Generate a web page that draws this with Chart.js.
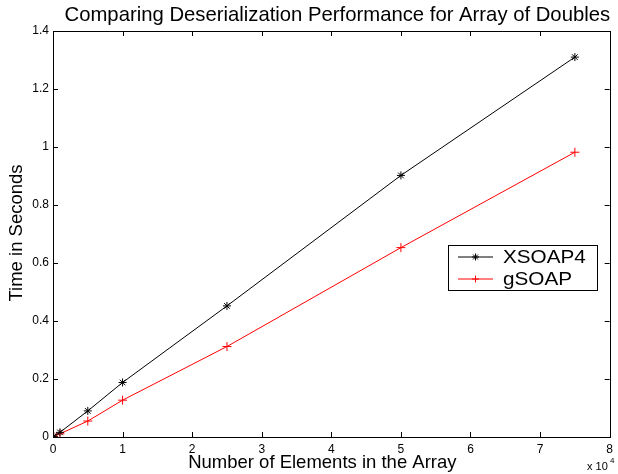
<!DOCTYPE html>
<html lang="en">
<head>
    <meta charset="UTF-8">
    <title>Deserialization Performance</title>
    <script src="https://cdn.jsdelivr.net/npm/chart.js"></script>
    <style>
        html, body { margin: 0; padding: 0; background: white; }
        #wrap { width: 618px; height: 474px; }
    </style>
</head>
<body>
    <div id="wrap"><canvas id="perfChart" width="618" height="474"></canvas></div>

    <script>
        // data
        const elements = [100, 1000, 5000, 10000, 25000, 50000, 75000];
        const xsoap4 = [0.002, 0.016, 0.09, 0.188, 0.452, 0.902, 1.31];
        const gsoap = [0.001, 0.011, 0.055, 0.127, 0.312, 0.653, 0.982];
        const xTicks = [0, 1, 2, 3, 4, 5, 6, 7, 8];
        const yTicks = [0, 0.2, 0.4, 0.6, 0.8, 1, 1.2, 1.4];

        const FONT = 'Liberation Sans, Arial, Helvetica, sans-serif';

        const toPoints = (ys) => ys.map((y, i) => ({ x: elements[i], y: y }));

        // MATLAB style frame: box, inward ticks, title, axis labels, legend
        const matlabFrame = {
            id: 'matlabFrame',
            afterDraw(chart) {
                const ctx = chart.ctx;
                const a = chart.chartArea;
                const xs = chart.scales.x, ys = chart.scales.y;
                ctx.save();
                ctx.strokeStyle = '#000';
                ctx.lineWidth = 1;
                ctx.strokeRect(Math.round(a.left) + 0.5, Math.round(a.top) + 0.5,
                    Math.round(a.right - a.left), Math.round(a.bottom - a.top));

                ctx.beginPath();
                xTicks.forEach(t => {
                    const px = Math.round(xs.getPixelForValue(t * 10000)) + 0.5;
                    ctx.moveTo(px, a.bottom); ctx.lineTo(px, a.bottom - 5);
                    ctx.moveTo(px, a.top); ctx.lineTo(px, a.top + 5);
                });
                yTicks.forEach(t => {
                    const py = Math.round(ys.getPixelForValue(t)) + 0.5;
                    ctx.moveTo(a.left, py); ctx.lineTo(a.left + 5, py);
                    ctx.moveTo(a.right, py); ctx.lineTo(a.right - 5, py);
                });
                ctx.stroke();

                ctx.fillStyle = '#000';
                ctx.textAlign = 'center';
                ctx.textBaseline = 'alphabetic';
                ctx.font = '20.3px ' + FONT;
                ctx.fillText('Comparing Deserialization Performance for Array of Doubles', (a.left + a.right) / 2 + 6, 21);
                ctx.font = '18.5px ' + FONT;
                ctx.fillText('Number of Elements in the Array', (a.left + a.right) / 2 - 9, 468);

                ctx.save();
                ctx.translate(22, (a.top + a.bottom) / 2 - 1);
                ctx.rotate(-Math.PI / 2);
                ctx.fillText('Time in Seconds', 0, 0);
                ctx.restore();

                ctx.textAlign = 'left';
                ctx.font = '11px ' + FONT;
                ctx.fillText('x 10', 587, 470);
                ctx.font = '8px ' + FONT;
                ctx.fillText('4', 610, 463);

                // legend
                const lx = 448, ly = 245, lw = 149, lh = 45;
                ctx.fillStyle = '#fff';
                ctx.fillRect(lx, ly, lw, lh);
                ctx.strokeRect(lx + 0.5, ly + 0.5, lw, lh);
                chart.data.datasets.forEach((ds, i) => {
                    const yy = ly + 12 + i * 22;
                    ctx.strokeStyle = ds.borderColor;
                    ctx.beginPath();
                    ctx.moveTo(458, yy); ctx.lineTo(493, yy);
                    ctx.stroke();
                    Chart.helpers.drawPoint(ctx, {
                        pointStyle: ds.pointStyle, radius: 3.5, borderWidth: 1
                    }, 475.5, yy);
                    ctx.fillStyle = '#000';
                    ctx.font = '18px ' + FONT;
                    ctx.textBaseline = 'middle';
                    ctx.save();
                    ctx.translate(503, yy + 1);
                    ctx.scale(1.15, 1);
                    ctx.fillText(ds.label, 0, 0);
                    ctx.restore();
                });
                ctx.restore();
            }
        };

        new Chart(document.getElementById('perfChart'), {
            type: 'line',
            data: {
                datasets: [{
                    label: 'XSOAP4',
                    data: toPoints(xsoap4),
                    borderColor: '#000',
                    backgroundColor: '#000',
                    pointStyle: 'star',
                    pointRadius: 4,
                    pointBorderWidth: 1,
                    borderWidth: 1,
                    tension: 0
                }, {
                    label: 'gSOAP',
                    data: toPoints(gsoap),
                    borderColor: '#ff0000',
                    backgroundColor: '#ff0000',
                    pointStyle: 'cross',
                    pointRadius: 4.5,
                    pointBorderWidth: 1,
                    borderWidth: 1,
                    tension: 0
                }]
            },
            options: {
                responsive: false,
                animation: false,
                layout: { padding: { left: 0, right: 6, top: 31, bottom: 0 } },
                scales: {
                    x: {
                        type: 'linear',
                        min: 0,
                        max: 80000,
                        afterFit: (s) => { s.height = 37; },
                        afterBuildTicks: (s) => { s.ticks = xTicks.map(t => ({ value: t * 10000 })); },
                        ticks: {
                            color: '#000',
                            font: { family: FONT, size: 12 },
                            padding: 5,
                            maxRotation: 0,
                            callback: (v) => String(v / 10000)
                        },
                        grid: { display: false, drawTicks: false },
                        border: { display: false }
                    },
                    y: {
                        min: 0,
                        max: 1.4,
                        afterFit: (s) => { s.width = 53; },
                        afterBuildTicks: (s) => { s.ticks = yTicks.map(t => ({ value: t })); },
                        ticks: {
                            color: '#000',
                            font: { family: FONT, size: 12 },
                            padding: 4,
                            callback: (v) => String(v)
                        },
                        grid: { display: false, drawTicks: false },
                        border: { display: false }
                    }
                },
                plugins: {
                    legend: { display: false },
                    tooltip: { enabled: false }
                }
            },
            plugins: [matlabFrame]
        });
    </script>
</body>
</html>
